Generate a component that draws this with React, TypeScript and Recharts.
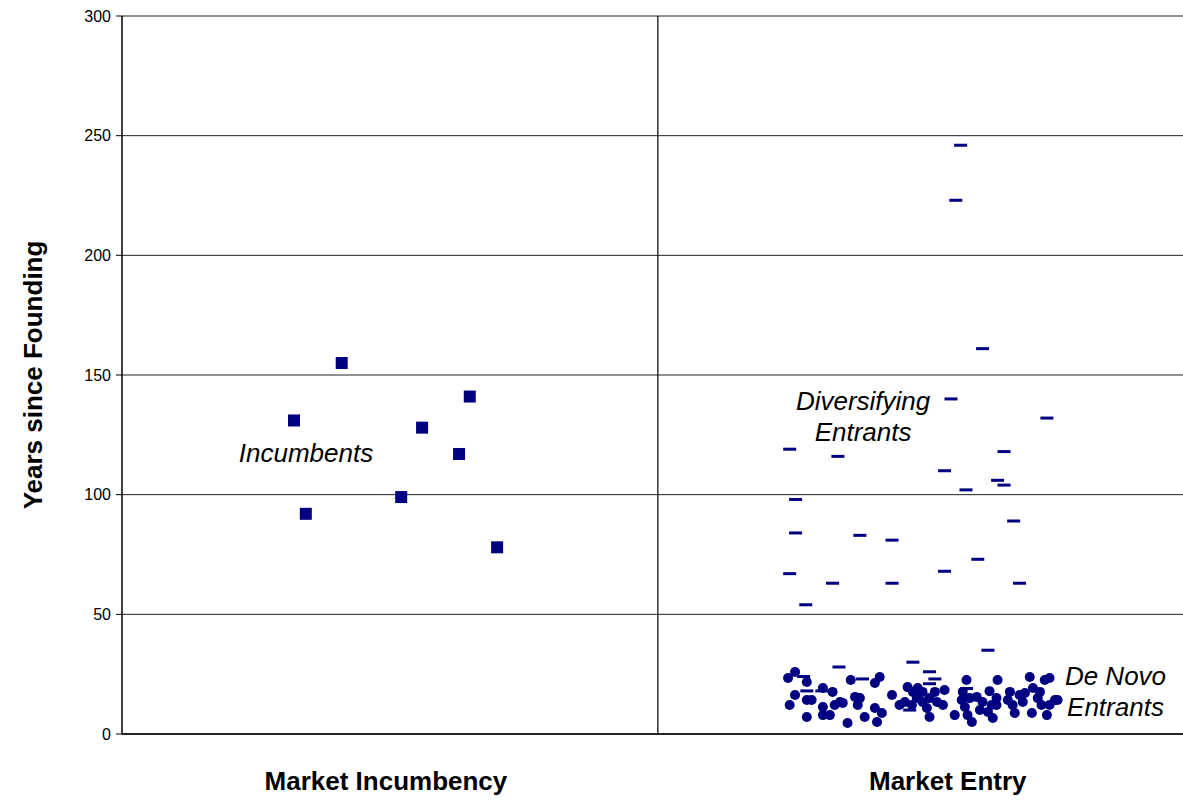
import { ScatterChart, Scatter, XAxis, YAxis, CartesianGrid, ReferenceLine, ReferenceDot } from "recharts"

const NAVY = "#000080"
const FONT = "Arial, 'Liberation Sans', sans-serif"

// x is a jitter position: 0-100 = Market Incumbency, 100-200 = Market Entry
const groupLabels = ["Market Incumbency", "Market Entry"]
const groupLabelPos = [49.25, 154.1]
const yTicks = [0, 50, 100, 150, 200, 250, 300]

const incumbentX = [32.1, 34.3, 41.0, 52.1, 56.0, 62.9, 64.9, 70.0]
const incumbentYears = [131, 92, 155, 99, 128, 117, 141, 78]

const diversifyingX = [
    156.5, 155.6, 160.6, 154.7, 172.6, 124.6, 133.6, 153.5, 164.6, 163.4, 164.6, 157.5,
    125.7, 166.4, 125.7, 137.7, 143.7, 159.7, 124.6, 153.5, 132.6, 143.7, 167.5, 127.6,
    161.6, 133.8, 147.6, 127.2, 127.8, 130.6, 138.2, 150.7, 151.7, 150.7, 157.6, 147.0,
]
const diversifyingYears = [
    246, 223, 161, 140, 132, 119, 116, 110, 118, 106, 104, 102,
    98, 89, 84, 83, 81, 73, 67, 68, 63, 63, 63, 54,
    35, 28, 30, 24, 18, 18, 23, 26, 23, 21, 19, 10,
]

const deNovoX = [
    125.6, 124.3, 127.8, 125.6, 124.6, 127.8, 128.7, 130.8, 130.8, 132.6, 133.0, 134.0,
    134.5, 127.8, 130.8, 132.1, 136.0, 135.4, 141.4, 140.5, 136.8, 137.7, 137.3, 138.6,
    140.5, 141.8, 140.9, 143.7, 146.6, 147.6, 145.1, 146.1, 148.3, 147.4, 148.5, 149.4,
    149.4, 151.7, 153.5, 150.7, 152.1, 150.2, 150.7, 153.2, 157.6, 156.9, 156.7, 158.2,
    157.3, 155.4, 157.8, 158.6, 163.4, 161.9, 160.6, 160.1, 161.6, 159.5, 163.2, 162.3,
    163.2, 162.5, 165.7, 165.3, 166.2, 166.6, 167.5, 168.5, 168.1, 169.4, 170.0, 171.3,
    170.9, 169.8, 171.6, 172.2, 173.1, 172.6, 174.1, 174.6, 173.1,
]
const deNovoYears = [
    25.9, 23.4, 21.7, 16.3, 12.1, 14.2, 14.2, 19.2, 11.3, 17.6, 12.1, 13.4,
    13.0, 7.1, 7.9, 7.9, 22.6, 4.6, 23.8, 21.3, 15.5, 15.0, 12.1, 7.1,
    10.9, 8.8, 5.0, 16.3, 19.6, 17.6, 12.1, 13.4, 15.0, 12.1, 19.2, 17.6,
    13.4, 17.6, 18.4, 15.0, 13.4, 10.9, 7.1, 12.1, 22.6, 17.6, 14.2, 15.0,
    11.3, 7.9, 7.9, 5.0, 22.6, 17.9, 13.4, 10.0, 9.2, 15.5, 15.0, 12.1,
    12.1, 6.7, 17.6, 14.2, 12.1, 8.8, 16.3, 17.1, 13.4, 23.8, 19.2, 17.6,
    15.0, 8.8, 12.1, 22.6, 23.4, 7.9, 14.2, 14.2, 12.1,
]

const annotationText = [["Incumbents"], ["Diversifying", "Entrants"], ["De Novo", "Entrants"]]
const annotationX = [21.8, 138.3, 185.4]
const annotationY = [117.4, 132.9, 17.8]
const annotationAnchor = ["start", "middle", "middle"]

const incumbents = incumbentX.map((x, i) => ({ x, y: incumbentYears[i] }))
const diversifying = diversifyingX.map((x, i) => ({ x, y: diversifyingYears[i] }))
const deNovo = deNovoX.map((x, i) => ({ x, y: deNovoYears[i] }))

const Square = (p: any) => <rect x={p.cx - 6} y={p.cy - 6} width={12} height={12} fill={NAVY} />
const Dash = (p: any) => <rect x={p.cx - 6.5} y={p.cy - 1.5} width={13} height={3} fill={NAVY} />
const Dot = (p: any) => <circle cx={p.cx} cy={p.cy} r={5} fill={NAVY} />

const annotationShape = (lines: string[], anchor: string) => (p: any) => {
    const first = lines.length === 1 ? 9 : -6
    return (
        <text x={p.cx} y={p.cy} textAnchor={anchor} fontFamily={FONT} fontSize={26} fontStyle="italic" fill="#000">
            {lines.map((l, i) => (
                <tspan key={l + i} x={p.cx} dy={i === 0 ? first : 31}>{l}</tspan>
            ))}
        </text>
    )
}

export default function App() {
    return (
        <div style={{ position: "absolute", left: 0, top: 0, background: "#fff" }}>
            <ScatterChart width={1183} height={801} margin={{ top: 16, right: 0, bottom: 0, left: 0 }}>
                <CartesianGrid vertical={false} stroke="#222" strokeWidth={1} />
                <XAxis
                    type="number"
                    dataKey="x"
                    domain={[0, 198]}
                    ticks={groupLabelPos}
                    tickFormatter={(v: number) => groupLabels[groupLabelPos.indexOf(v)] ?? ""}
                    height={67}
                    tickLine={false}
                    tickSize={0}
                    tickMargin={38}
                    axisLine={{ stroke: "#000", strokeWidth: 1.5 }}
                    tick={{ fill: "#000", fontSize: 26, fontWeight: "bold", fontFamily: FONT }}
                    allowDataOverflow
                />
                <YAxis
                    type="number"
                    dataKey="y"
                    domain={[0, 300]}
                    ticks={yTicks}
                    width={122}
                    tickSize={6}
                    tickMargin={5}
                    axisLine={{ stroke: "#000", strokeWidth: 1.5 }}
                    tickLine={{ stroke: "#000" }}
                    tick={{ fill: "#000", fontSize: 16, fontFamily: FONT }}
                    label={{
                        value: "Years since Founding",
                        angle: -90,
                        position: "insideLeft",
                        offset: 33,
                        style: { textAnchor: "middle", fontSize: 26, fontWeight: "bold", fontFamily: FONT, fill: "#000" },
                    }}
                />
                <ReferenceLine x={100} stroke="#000" strokeWidth={1.2} />
                <Scatter data={incumbents} shape={Square} isAnimationActive={false} />
                <Scatter data={diversifying} shape={Dash} isAnimationActive={false} />
                <Scatter data={deNovo} shape={Dot} isAnimationActive={false} />
                {annotationText.map((lines, i) => (
                    <ReferenceDot
                        key={lines[0]}
                        x={annotationX[i]}
                        y={annotationY[i]}
                        r={0}
                        shape={annotationShape(lines, annotationAnchor[i])}
                    />
                ))}
            </ScatterChart>
        </div>
    )
}
